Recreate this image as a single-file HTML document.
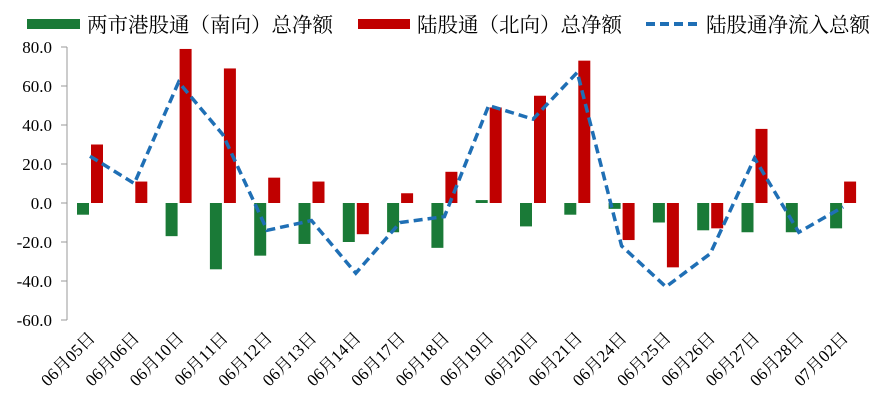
<!DOCTYPE html>
<html><head><meta charset="utf-8"><style>
body{margin:0;background:#fff;}
svg text{font-family:"Liberation Serif","Noto Serif CJK SC","Noto Sans CJK SC",serif;}
</style></head><body>
<svg id="chart" width="886" height="413" xmlns="http://www.w3.org/2000/svg">
<g>
 <rect x="27" y="19" width="53" height="10" fill="#1a7a37"/>
 <text x="87" y="32" font-size="20.5" fill="#000" font-family="Noto Sans CJK SC, sans-serif">两市港股通（南向）总净额</text>
 <rect x="358" y="19" width="52" height="10" fill="#c00000"/>
 <text x="417" y="32" font-size="20.5" fill="#000" font-family="Noto Sans CJK SC, sans-serif">陆股通（北向）总净额</text>
 <line x1="646" y1="24" x2="700" y2="24" stroke="#1f6fb5" stroke-width="4" stroke-dasharray="9,5"/>
 <text x="706" y="32" font-size="20.5" fill="#000" font-family="Noto Sans CJK SC, sans-serif">陆股通净流入总额</text>
</g>
<g id="axes"></g>
<g id="bars"></g>
<g id="line"></g>
</svg>
<script>
const categories=["06月05日","06月06日","06月10日","06月11日","06月12日","06月13日","06月14日","06月17日","06月18日","06月19日","06月20日","06月21日","06月24日","06月25日","06月26日","06月27日","06月28日","07月02日"];
const southValues=[-6,0,-17,-34,-27,-21,-20,-15,-23,1.5,-12,-6,-3,-10,-14,-15,-15,-13];
const northValues=[30,11,79,69,13,11,-16,5,16,49,55,73,-19,-33,-13,38,0,11];
const totalValues=[24,10,62,35,-14,-9,-36,-10,-7,50,43,67,-22,-43,-26,23,-15,-2];
const yTicks=[80,60,40,20,0,-20,-40,-60];
const NS="http://www.w3.org/2000/svg";
const y0=203, k=1.95, left=67, step=44.3, first=90;
const Y=v=>y0-v*k;
const X=i=>first+i*step;
function mk(tag,attrs,parent){const e=document.createElementNS(NS,tag);for(const a in attrs)e.setAttribute(a,attrs[a]);parent.appendChild(e);return e;}
const axes=document.getElementById('axes'),bars=document.getElementById('bars'),line=document.getElementById('line');
let ax=mk('line',{x1:left,y1:Y(80),x2:left,y2:Y(-60),stroke:'#999','stroke-width':1},axes);


yTicks.forEach(t=>{
 const tk=mk('line',{x1:left-6,y1:Y(t),x2:left,y2:Y(t),stroke:'#999'},axes);
 
 
 const tx=mk('text',{x:52,y:Y(t)+6,'font-size':17,'text-anchor':'end',fill:'#000'},axes);
 tx.textContent=t.toFixed(1);
 
 
});
categories.forEach((c,i)=>{
 const cx=X(i);
 const g=mk('rect',{x:cx-13,y:Math.min(Y(0),Y(southValues[i])),width:12,height:Math.abs(southValues[i]*k),fill:'#1a7a37'},bars);
 
 
 const r=mk('rect',{x:cx+1,y:Math.min(Y(0),Y(northValues[i])),width:12,height:Math.abs(northValues[i]*k),fill:'#c00000'},bars);
 
 
 const tx=mk('text',{x:0,y:0,'font-size':17,'text-anchor':'end',fill:'#000',transform:`translate(${cx+6},${339}) rotate(-45)`},axes);
 tx.textContent=c;
 
 
});
const pl=mk('polyline',{points:totalValues.map((v,i)=>X(i)+','+Y(v)).join(' '),fill:'none',stroke:'#1f6fb5','stroke-width':3.5,'stroke-dasharray':'9,5'},line);


</script>
</body></html>
